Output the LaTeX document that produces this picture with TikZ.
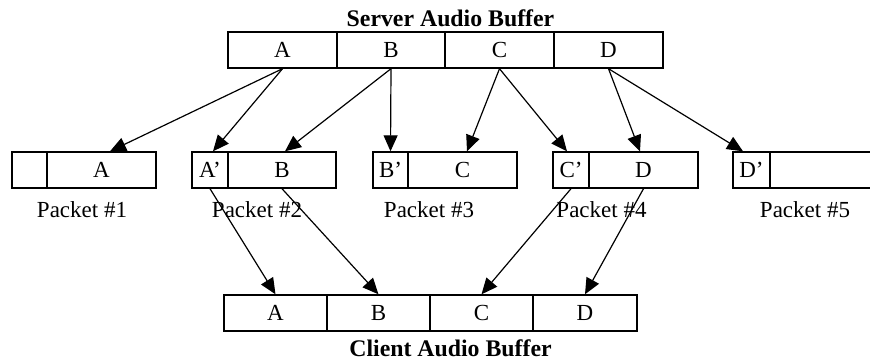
\documentclass[tikz,border=0pt]{standalone}
\usepackage{fontspec}
\setmainfont{Liberation Serif}
\usetikzlibrary{arrows.meta}
\begin{document}
\begin{tikzpicture}[x=1pt,y=-1pt,
  cell/.style={draw, line width=1.4pt, minimum height=36pt, inner sep=0pt,
    font=\fontsize{23}{27}\selectfont},
  lbl/.style={anchor=base, inner sep=0pt, font=\fontsize{23}{27}\selectfont},
  ttl/.style={anchor=base, inner sep=0pt, font=\fontsize{23.8}{27}\selectfont\bfseries},
  arr/.style={line width=1.2pt, -{Triangle[length=16pt,width=14pt]}}]
\clip (0,0) rectangle (870,362);
% server buffer
\node[ttl] (stitle) at (450.5,26) {Server Audio Buffer};
\node[cell, minimum width=109pt] (sA) at (282.5,50) {A};
\node[cell, minimum width=108pt] (sB) at (391,50) {B};
\node[cell, minimum width=109pt] (sC) at (499.5,50) {C};
\node[cell, minimum width=109pt] (sD) at (608.5,50) {D};
% packets
\node[cell, minimum width=35pt] (p1a) at (29.5,170) {};
\node[cell, minimum width=109pt] (p1b) at (101.5,170) {A};
\node[cell, minimum width=36pt] (p2a) at (210,170) {A’};
\node[cell, minimum width=108pt] (p2b) at (282,170) {B};
\node[cell, minimum width=35pt] (p3a) at (390.5,170) {B’};
\node[cell, minimum width=109pt] (p3b) at (462.5,170) {C};
\node[cell, minimum width=36pt] (p4a) at (571,170) {C’};
\node[cell, minimum width=109pt] (p4b) at (643.5,170) {D};
\node[cell, minimum width=37pt] (p5a) at (751.5,170) {D’};
\node[cell, minimum width=109pt] (p5b) at (824.5,170) {};
\node[lbl] (l1) at (82,217) {Packet \#1};
\node[lbl] (l2) at (257,217) {Packet \#2};
\node[lbl] (l3) at (429,217) {Packet \#3};
\node[lbl] (l4) at (601.5,217) {Packet \#4};
\node[lbl] (l5) at (805,217) {Packet \#5};
% client buffer
\node[cell, minimum width=103pt] (cA) at (275.5,313) {A};
\node[cell, minimum width=103pt] (cB) at (378.5,313) {B};
\node[cell, minimum width=103pt] (cC) at (481.5,313) {C};
\node[cell, minimum width=104pt] (cD) at (585,313) {D};
\node[ttl] (ctitle) at (450.5,356) {Client Audio Buffer};
% server -> packets
\draw[arr] (sA.south) -- ([xshift=8.5pt]p1b.north);
\draw[arr] (sA.south) -- ([xshift=3pt]p2a.north);
\draw[arr] (sB.south) -- ([xshift=3pt]p2b.north);
\draw[arr] (sB.south) -- (p3a.north);
\draw[arr] (sC.south) -- ([xshift=4.5pt]p3b.north);
\draw[arr] (sC.south) -- ([xshift=-4pt]p4a.north);
\draw[arr] (sD.south) -- ([xshift=-3.5pt]p4b.north);
\draw[arr] (sD.south) -- ([xshift=-8.5pt]p5a.north);
% packets -> client
\draw[arr] (p2a.south) -- (cA.north);
\draw[arr] (p2b.south) -- (cB.north);
\draw[arr] (p4a.south) -- (cC.north);
\draw[arr] (p4b.south) -- (cD.north);
\end{tikzpicture}
\end{document}
